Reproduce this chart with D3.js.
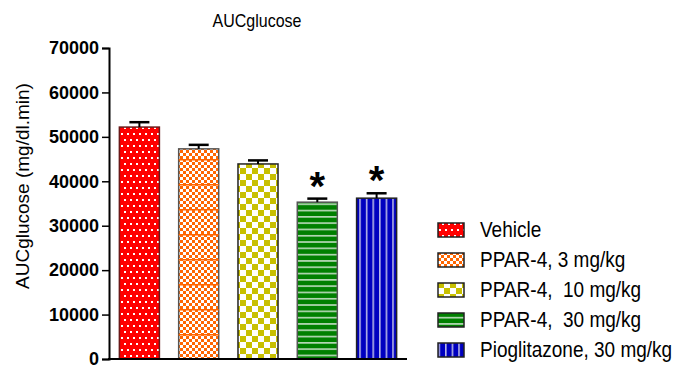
<!DOCTYPE html>
<html><head><meta charset="utf-8">
<script src="https://cdn.jsdelivr.net/npm/d3@7/dist/d3.min.js"></script>
<style>body{margin:0;background:#fff}svg{display:block}text{font-family:"Liberation Sans",Arial,sans-serif}</style>
</head><body><div id="chart"></div>
<script>
const categories = ["Vehicle","PPAR-4, 3 mg/kg","PPAR-4,  10 mg/kg","PPAR-4,  30 mg/kg","Pioglitazone, 30 mg/kg"];
const means = [52200, 47300, 43900, 35300, 36200];
const sems = [1100, 900, 800, 800, 1100];
const significant = [false, false, false, true, true];
const yTicks = [0,10000,20000,30000,40000,50000,60000,70000];

const W = 678, H = 369;
const svg = d3.select("#chart").append("svg").attr("width", W).attr("height", H);
const defs = svg.append("defs");

// patterns
const pVeh = defs.append("pattern").attr("id","p0").attr("patternUnits","userSpaceOnUse").attr("width",6).attr("height",12);
pVeh.append("rect").attr("width",6).attr("height",12).attr("fill","#ff0000");
pVeh.append("rect").attr("x",1).attr("y",1).attr("width",2).attr("height",2).attr("fill","#fff");
pVeh.append("rect").attr("x",4).attr("y",7).attr("width",2).attr("height",2).attr("fill","#fff");

const pP3 = defs.append("pattern").attr("id","p1").attr("patternUnits","userSpaceOnUse").attr("width",6).attr("height",6);
pP3.append("rect").attr("width",6).attr("height",6).attr("fill","#fff");
pP3.append("rect").attr("width",3).attr("height",3).attr("fill","#ff6600");
pP3.append("rect").attr("x",3).attr("y",3).attr("width",3).attr("height",3).attr("fill","#ff6600");
const pP3l = defs.append("pattern").attr("id","p1l").attr("patternUnits","userSpaceOnUse").attr("width",6).attr("height",25).attr("y",359);
pP3l.append("rect").attr("y",0).attr("width",6).attr("height",1.5).attr("fill","#ff6600");

const pP10 = defs.append("pattern").attr("id","p2").attr("patternUnits","userSpaceOnUse").attr("width",12).attr("height",12);
pP10.append("rect").attr("width",12).attr("height",12).attr("fill","#fff");
pP10.append("rect").attr("width",6).attr("height",6).attr("fill","#c8c000");
pP10.append("rect").attr("x",6).attr("y",6).attr("width",6).attr("height",6).attr("fill","#c8c000");

const pP30 = defs.append("pattern").attr("id","p3").attr("patternUnits","userSpaceOnUse").attr("width",6).attr("height",6.3);
pP30.append("rect").attr("width",6).attr("height",6.3).attr("fill","#008000");
pP30.append("rect").attr("y",2).attr("width",6).attr("height",1.3).attr("fill","#e8f0e8");

const pPio = defs.append("pattern").attr("id","p4").attr("patternUnits","userSpaceOnUse").attr("width",6.6).attr("height",6);
pPio.append("rect").attr("width",6.6).attr("height",6).attr("fill","#0000c0");
pPio.append("rect").attr("x",3).attr("width",1.3).attr("height",6).attr("fill","#dde");

const fills = ["url(#p0)","url(#p1)","url(#p2)","url(#p3)","url(#p4)"];
const strokes = ["#6a1a1a","#555","#222","#555","#222"];

const y = d3.scaleLinear().domain([0,70000]).range([359,48]);
const x = d3.scaleBand().domain(categories).range([109,407]).paddingInner(0.325).paddingOuter(0.175);

// axes
const yAxis = svg.append("g").attr("transform","translate(109,0)")
  .call(d3.axisLeft(y).tickValues(yTicks).tickSize(7).tickPadding(3).tickFormat(d3.format("d")));
yAxis.select(".domain").attr("stroke","#000").attr("stroke-width",2);
yAxis.selectAll(".tick line").attr("stroke","#000").attr("stroke-width",1.5);
yAxis.selectAll(".tick text").attr("font-size",18).attr("font-weight","bold").attr("fill","#000")
  .attr("font-family","'Liberation Sans',Arial,sans-serif");

// bars
const g = svg.append("g");
categories.forEach((c,i)=>{
  const bx = x(c), bw = x.bandwidth();
  g.append("rect").attr("x",bx).attr("y",y(means[i])).attr("width",bw).attr("height",y(0)-y(means[i]))
    .attr("fill",fills[i]).attr("stroke",strokes[i]).attr("stroke-width",1.5);
  if(i===1){
    g.append("rect").attr("x",bx).attr("y",y(means[i])).attr("width",bw).attr("height",y(0)-y(means[i]))
      .attr("fill","url(#p1l)").attr("stroke","none");
  }
  const cx = bx + bw/2;
  g.append("line").attr("x1",cx).attr("x2",cx).attr("y1",y(means[i])).attr("y2",y(means[i]+sems[i])).attr("stroke","#000").attr("stroke-width",2);
  g.append("line").attr("x1",cx-10).attr("x2",cx+10).attr("y1",y(means[i]+sems[i])).attr("y2",y(means[i]+sems[i])).attr("stroke","#000").attr("stroke-width",2.5);
  if(significant[i]){
    g.append("text").attr("x",cx).attr("y",y(means[i]+sems[i])+1).attr("text-anchor","middle")
      .attr("font-size",40).attr("font-weight","bold").text("*");
  }
});

// x axis line
svg.append("line").attr("x1",108).attr("x2",407).attr("y1",y(0)).attr("y2",y(0)).attr("stroke","#000").attr("stroke-width",2);

// title
svg.append("text").attr("transform","translate(257,27) scale(1,1.15)").attr("text-anchor","middle")
  .attr("font-size",16).text("AUCglucose");

// y label
svg.append("text").attr("transform","translate(29,186) rotate(-90)").attr("text-anchor","middle")
  .attr("font-size",19).text("AUCglucose (mg/dl.min)");

// legend
const leg = svg.append("g");
categories.forEach((c,i)=>{
  const cy = 230 + i*30;
  leg.append("rect").attr("x",438).attr("y",cy-7).attr("width",26).attr("height",14)
    .attr("fill",fills[i]).attr("stroke","#222").attr("stroke-width",1.5);
  leg.append("text").attr("transform",`translate(480,${cy+7}) scale(1,1.15)`).attr("font-size",19).text(c)
    .attr("xml:space","preserve").style("white-space","pre");
});
</script></body></html>
